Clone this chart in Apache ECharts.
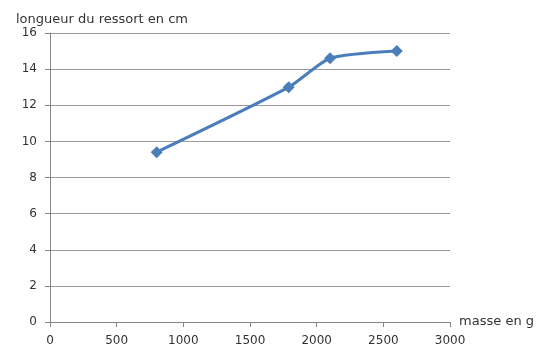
<!DOCTYPE html>
<html>
<head>
<meta charset="utf-8">
<script src="https://cdn.jsdelivr.net/npm/echarts@6/dist/echarts.min.js"></script>
<style>
  html, body { margin: 0; padding: 0; background: #fff; }
  #main { width: 537px; height: 354px; }
</style>
</head>
<body>
<div id="main"></div>
<script>
// masse (g) et longueur (cm)
const masses = [800, 1790, 2100, 2600];
const longueurs = [9.4, 13, 14.6, 15];
const xTicks = [0, 500, 1000, 1500, 2000, 2500, 3000];
const yTicks = [0, 2, 4, 6, 8, 10, 12, 14, 16];

const font = 'DejaVu Sans';
const chart = echarts.init(document.getElementById('main'));

chart.setOption({
  animation: false,
  backgroundColor: '#fff',
  title: {
    text: 'longueur du ressort en cm',
    left: 11,
    top: 8,
    textStyle: { fontFamily: font, fontSize: 13, fontWeight: 'normal', color: '#333' }
  },
  grid: { left: 50, right: 84, top: 33, bottom: 32, containLabel: false },
  xAxis: {
    type: 'value',
    min: xTicks[0],
    max: xTicks[xTicks.length - 1],
    interval: 500,
    name: 'masse en g',
    nameLocation: 'end',
    nameGap: 9,
    nameTextStyle: { fontFamily: font, fontSize: 13, color: '#333', padding: [6, 0, 0, 0] },
    axisLine: { show: true, lineStyle: { color: '#868686', width: 1 } },
    axisTick: { show: true, length: 5, lineStyle: { color: '#868686' } },
    axisLabel: { fontFamily: font, fontSize: 12, color: '#333', margin: 13, formatter: v => String(v) },
    splitLine: { show: false }
  },
  yAxis: {
    type: 'value',
    min: yTicks[0],
    max: yTicks[yTicks.length - 1],
    interval: 2,
    axisLine: { show: true, lineStyle: { color: '#868686', width: 1 } },
    axisTick: { show: true, length: 5, lineStyle: { color: '#868686' } },
    axisLabel: { fontFamily: font, fontSize: 12, color: '#333', margin: 13 },
    splitLine: { show: true, lineStyle: { color: '#9a9a9a', width: 1 } }
  },
  series: [{
    type: 'line',
    data: masses.map((m, i) => [m, longueurs[i]]),
    smooth: 0.2,
    symbol: 'diamond',
    symbolSize: 12,
    itemStyle: { color: '#4a7ebb' },
    lineStyle: { color: '#4a7ebb', width: 3 }
  }]
});
</script>
</body>
</html>
